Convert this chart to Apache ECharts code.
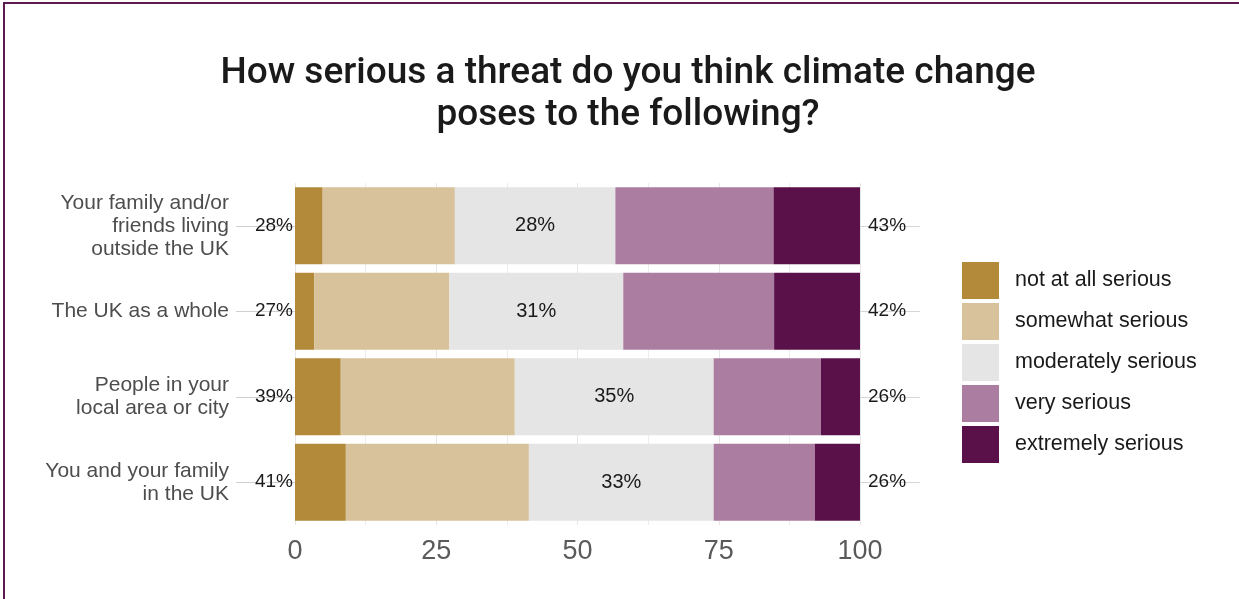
<!DOCTYPE html>
<html><head><meta charset="utf-8">
<script src="https://cdn.jsdelivr.net/npm/echarts@6/dist/echarts.min.js"></script>
<style>
html,body{margin:0;padding:0;background:#fff;}
#frame{position:absolute;left:3px;top:2px;width:1240px;height:600px;border-left:2px solid #5e1b4f;border-top:2px solid #5e1b4f;}
#chart{position:absolute;left:0;top:0;width:1239px;height:599px;}
</style></head>
<body>
<div id="frame"></div>
<div id="chart"></div>
<script>
const categories = ['Your family and/or\nfriends living\noutside the UK', 'The UK as a whole', 'People in your\nlocal area or city', 'You and your family\nin the UK'];
const seriesNames = ['not at all serious', 'somewhat serious', 'moderately serious', 'very serious', 'extremely serious'];
const notAtAll   = [4.9, 3.4, 8.1, 9.0];
const somewhat   = [23.4, 23.9, 30.8, 32.4];
const moderately = [28.4, 30.8, 35.2, 32.7];
const very       = [28.0, 26.7, 19.0, 17.9];
const extremely  = [15.3, 15.2, 6.9, 8.0];
const xTicks = [0, 25, 50, 75, 100];

const colors = ['#b38a3a', '#d8c29c', '#e4e5e4', '#ab7da1', '#5a1048'];
const leftLabels = categories.map((c, i) => Math.round(notAtAll[i] + somewhat[i]) + '%');
const rightLabels = categories.map((c, i) => Math.round(very[i] + extremely[i]) + '%');
const allData = [notAtAll, somewhat, moderately, very, extremely];

const chart = echarts.init(document.getElementById('chart'), null, {renderer: 'canvas'});
const tfont = 'Roboto';
const font = 'Liberation Sans';
chart.setOption({
  animation: false,
  backgroundColor: 'transparent',
  title: {
    text: 'How serious a threat do you think climate change\nposes to the following?',
    left: 623, top: 48, textAlign: 'center',
    textStyle: {fontFamily: tfont, fontSize: 37, fontWeight: 500, color: '#1a1a1a', lineHeight: 42}
  },
  legend: {
    data: seriesNames, orient: 'vertical', left: 962, top: 262, padding: 0,
    itemWidth: 37, itemHeight: 37, itemGap: 4, icon: 'rect',
    textStyle: {fontFamily: font, fontSize: 21.5, color: '#1a1a1a', padding: [0, 0, 0, 11]}
  },
  grid: {left: 295, right: 379, top: 183, height: 342, containLabel: false},
  xAxis: {
    type: 'value', min: xTicks[0], max: xTicks[xTicks.length - 1], interval: 25,
    axisLine: {show: false}, axisTick: {show: false},
    axisLabel: {fontFamily: font, fontSize: 27, color: '#5a5a5a', margin: 13},
    splitLine: {show: true, lineStyle: {color: '#e6e6e6', width: 1}},
    minorTick: {show: false, splitNumber: 2},
    minorSplitLine: {show: true, lineStyle: {color: '#ececec', width: 1}}
  },
  yAxis: [
    {
      type: 'category', data: categories, inverse: true, position: 'left',
      axisLine: {show: false},
      axisTick: {show: true, alignWithLabel: true, length: 59, lineStyle: {color: '#cfcfcf'}},
      axisLabel: {fontFamily: font, fontSize: 21, color: '#4d4d4d', margin: 66, lineHeight: 23}
    },
    {
      type: 'category', data: leftLabels, inverse: true, position: 'left',
      axisLine: {show: false}, axisTick: {show: false},
      axisLabel: {fontFamily: font, fontSize: 19, color: '#1a1a1a', margin: 2}
    },
    {
      type: 'category', data: rightLabels, inverse: true, position: 'right',
      axisLine: {show: false},
      axisTick: {show: true, alignWithLabel: true, length: 60, lineStyle: {color: '#d6d6d6'}},
      axisLabel: {fontFamily: font, fontSize: 19, color: '#1a1a1a', margin: 8}
    }
  ],
  series: seriesNames.map((name, k) => ({
    name: name, type: 'bar', stack: 'total', yAxisIndex: 0,
    data: allData[k], barCategoryGap: '10%',
    itemStyle: {color: colors[k]},
    label: k === 2 ? {
      show: true, position: 'inside', fontFamily: font, fontSize: 20, color: '#1a1a1a',
      formatter: p => Math.round(p.value) + '%'
    } : {show: false}
  }))
});
</script>
</body></html>
